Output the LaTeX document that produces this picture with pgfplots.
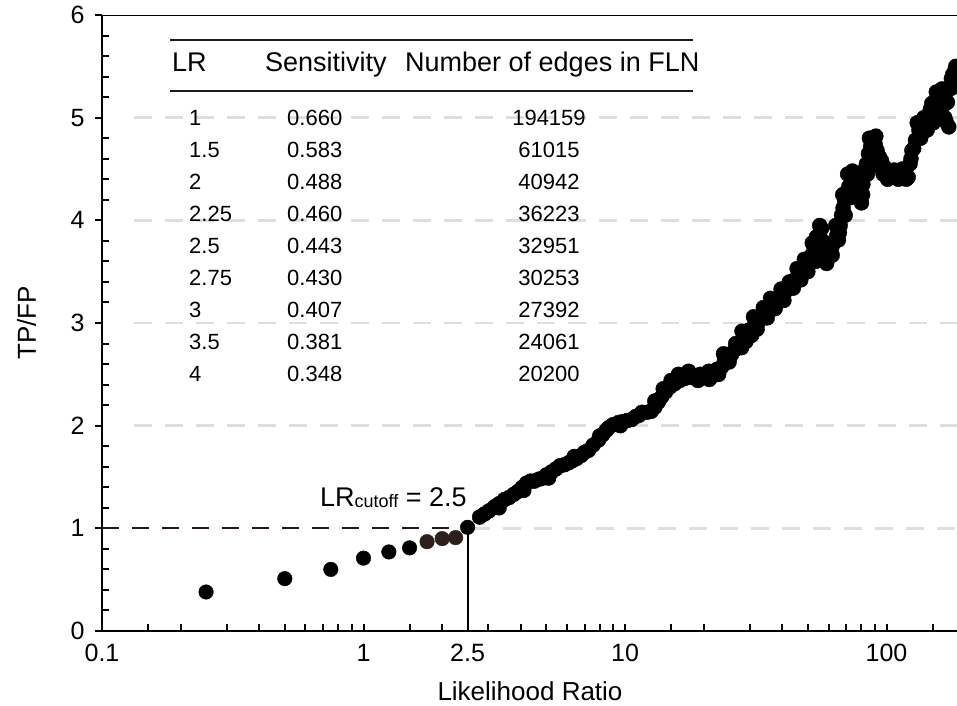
\documentclass[border=0pt]{standalone}
\usepackage{fontspec}
\setmainfont{Liberation Sans}
\usepackage{pgfplots}
\pgfplotsset{compat=1.18}
\definecolor{dk}{RGB}{35,24,21}
\definecolor{br}{RGB}{45,32,28}
\definecolor{gr}{RGB}{222,222,222}
\begin{document}
\begin{tikzpicture}
\begin{axis}[
  scale only axis, width=855pt, height=616pt,
  xmode=log, xmin=0.1, xmax=186, ymin=0, ymax=6,
  axis x line*=bottom, axis y line*=left,
  axis line style={-, line width=2pt, black},
  xtick={0.1,1,2.5,10,100}, xticklabels={0.1,1,2.5,10,100},
  minor xtick={0.15,0.2,0.3,0.4,0.5,0.6,0.7,0.8,0.9,1.5,2,3,4,5,6,7,8,9,15,20,30,40,50,60,70,80,90,150},
  ytick={0,1,2,3,4,5,6}, minor y tick num=4,
  tick align=inside, major tick length=7pt, minor tick length=7pt,
  tick style={line width=2pt, black},
  major y tick style={xshift=-7pt},
  /pgf/number format/assume math mode=true,
  ticklabel style={font=\fontsize{25}{30}\selectfont},
  yticklabel style={xshift=-14pt},
  xticklabel style={yshift=-10pt},
  clip=true,
]
\coordinate (SW) at (rel axis cs:0,0);
\draw[line width=2pt] (rel axis cs:0,1) -- (rel axis cs:1,1);
% grid lines
\addplot[gr, line width=2.5pt, dash pattern=on 18pt off 13pt] coordinates {(0.133,5) (186,5)};
\addplot[gr, line width=2.5pt, dash pattern=on 18pt off 13pt] coordinates {(0.133,4) (186,4)};
\addplot[gr, line width=2.5pt, dash pattern=on 18pt off 13pt] coordinates {(0.133,3) (186,3)};
\addplot[gr, line width=2.5pt, dash pattern=on 18pt off 13pt] coordinates {(0.133,2) (186,2)};
\addplot[gr, line width=2.5pt, dash pattern=on 18pt off 13pt] coordinates {(2.6,1) (186,1)};
% cutoff lines
\addplot[dk, line width=2pt, dash pattern=on 17pt off 13pt] coordinates {(0.1,1) (2.5,1)};
\addplot[black, line width=2pt] coordinates {(2.5,0) (2.5,1)};
% low points
\addplot[only marks, mark=*, mark size=7.3pt, black] coordinates {
(0.25,0.38) (0.5,0.51) (0.75,0.60) (1,0.71) (1.25,0.77) (1.5,0.81) (2.5,1.01)};
\addplot[only marks, mark=*, mark size=7.3pt, br] coordinates {
(1.75,0.87) (2,0.90) (2.25,0.91)};
% dense curve
\addplot[only marks, mark=*, mark size=7.5pt, black] table {
x y
2.78 1.11
2.9 1.14
3.02 1.17
3.17 1.21
3.3 1.24
3.46 1.28
3.6 1.30
3.75 1.33
3.9 1.36
4.05 1.40
4.2 1.44
4.35 1.46
4.5 1.46
4.7 1.48
4.85 1.49
5.0 1.52
5.24 1.55
5.45 1.58
5.65 1.61
5.87 1.62
6.1 1.64
6.3 1.66
6.53 1.68
6.8 1.71
7.0 1.74
7.25 1.76
7.55 1.81
7.92 1.86
8.2 1.91
8.45 1.95
8.65 1.98
9.0 2.01
9.44 2.03
9.8 2.04
10.2 2.05
10.6 2.06
11.0 2.09
11.6 2.13
12.1 2.13
12.6 2.14
13.0 2.18
13.4 2.23
13.8 2.28
14.3 2.33
14.9 2.38
15.5 2.41
16.2 2.44
16.9 2.46
17.9 2.47
18.7 2.47
19.4 2.50
20.1 2.48
20.9 2.53
21.8 2.49
22.8 2.50
23.4 2.57
24.0 2.64
24.6 2.66
25.5 2.69
26.3 2.74
27.2 2.80
27.9 2.76
28.6 2.86
29.7 2.93
30.5 2.88
31.3 2.98
32.4 3.01
33.5 3.06
34.4 3.10
35.4 3.13
36.6 3.17
37.9 3.22
39.0 3.24
39.7 3.28
41.0 3.31
42.2 3.33
43.3 3.37
44.5 3.42
45.9 3.46
47.3 3.49
48.5 3.53
49.8 3.58
51.0 3.62
51.7 3.66
52.8 3.74
54.0 3.84
55.0 3.78
56.4 3.92
57.5 3.70
58.8 3.66
60.0 3.64
61.5 3.72
63.0 3.78
64.5 3.85
65.5 3.81
66.5 3.95
67.3 4.05
68.2 4.12
69.1 4.20
70.5 4.28
71.8 4.33
73.4 4.36
75.0 4.40
76.5 4.30
78.0 4.22
80.2 4.17
81.2 4.35
82.3 4.49
83.8 4.55
85.3 4.65
87.0 4.72
89.2 4.80
90.5 4.74
92.0 4.68
93.8 4.62
95.7 4.58
98 4.52
100.5 4.48
103 4.47
104.5 4.46
107 4.49
110 4.47
113 4.45
117 4.44
121 4.42
123 4.55
125 4.68
129 4.78
133 4.88
137 4.85
141 4.92
145 4.95
149 5.00
149 5.14
153 5.05
157 5.18
162 5.20
165 5.12
169 4.96
173 4.91
177 5.38
181 5.30
183 5.47
186 5.42
};
% scattered points around the band
\addplot[only marks, mark=*, mark size=7.5pt, black] table {
x y
3.3 1.20
4.1 1.37
5.1 1.49
6.4 1.70
8.0 1.90
9.6 2.00
11.3 2.10
13.0 2.24
14.0 2.36
15.0 2.44
16.0 2.50
17.5 2.53
19.0 2.44
21.0 2.45
22.5 2.55
23.8 2.70
25.0 2.62
26.5 2.80
28.0 2.92
29.0 2.82
31.0 3.06
32.0 2.94
33.8 3.15
35.0 3.05
36.0 3.24
37.5 3.14
39.5 3.33
40.5 3.22
42.5 3.40
44.0 3.34
45.5 3.53
47.0 3.42
48.5 3.62
50.0 3.50
52.0 3.78
53.5 3.60
55.5 3.95
57.0 3.80
59.0 3.58
62.0 3.66
64.0 3.95
66.0 3.88
68.0 4.25
69.5 4.05
71.0 4.45
72.5 4.22
74.0 4.48
77.0 4.40
79.0 4.30
81.0 4.25
84.5 4.45
86.0 4.80
88.0 4.62
91.0 4.82
94.5 4.52
97 4.45
101 4.40
106 4.42
111 4.40
115 4.50
119 4.40
124 4.60
127 4.70
131 4.95
135 4.80
139 5.00
143 4.88
147 5.08
151 4.95
155 5.25
159 5.10
163 5.28
167 5.00
171 5.15
175 5.28
179 5.42
184 5.50
};
\end{axis}
\begin{scope}[shift={(SW)}, xshift=-102pt, yshift=631pt, x=1pt, y=-1pt]
  % table rules
  \draw[dk, line width=2pt] (170,40) -- (693,40);
  \draw[dk, line width=2pt] (170,91) -- (693,91);
  \begin{scope}[every node/.style={inner sep=0pt, font=\fontsize{27}{32}\selectfont}]
    \node[anchor=base west] at (172,72) {LR};
    \node[anchor=base west] at (265,72) {Sensitivity};
    \node[anchor=base west] at (405,72) {Number of edges in FLN};
  \end{scope}
  \begin{scope}[every node/.style={inner sep=0pt, font=\fontsize{22}{26}\selectfont}]
    \foreach \a/\b/\c [count=\i from 0] in {1/0.660/194159,1.5/0.583/61015,2/0.488/40942,2.25/0.460/36223,2.5/0.443/32951,2.75/0.430/30253,3/0.407/27392,3.5/0.381/24061,4/0.348/20200}{
      \node[anchor=base west] at (189,{126+31.9*\i}) {\a};
      \node[anchor=base west] at (287,{126+31.9*\i}) {\b};
      \node[anchor=base] at (549,{126+31.9*\i}) {\c};
    }
  \end{scope}
  \node[anchor=base west, inner sep=0pt] at (320,506) {\fontsize{27}{32}\selectfont LR\raisebox{-1.5pt}{\fontsize{18}{20}\selectfont cutoff} = 2.5};
  \node[anchor=base, inner sep=0pt] at (530,700) {\fontsize{26}{30}\selectfont Likelihood Ratio};
  \node[anchor=base, rotate=90, inner sep=0pt] at (36,323) {\fontsize{26}{30}\selectfont TP/FP};
  \pgfresetboundingbox
  \useasboundingbox (0,0) rectangle (957,705);
\end{scope}
\end{tikzpicture}
\end{document}
